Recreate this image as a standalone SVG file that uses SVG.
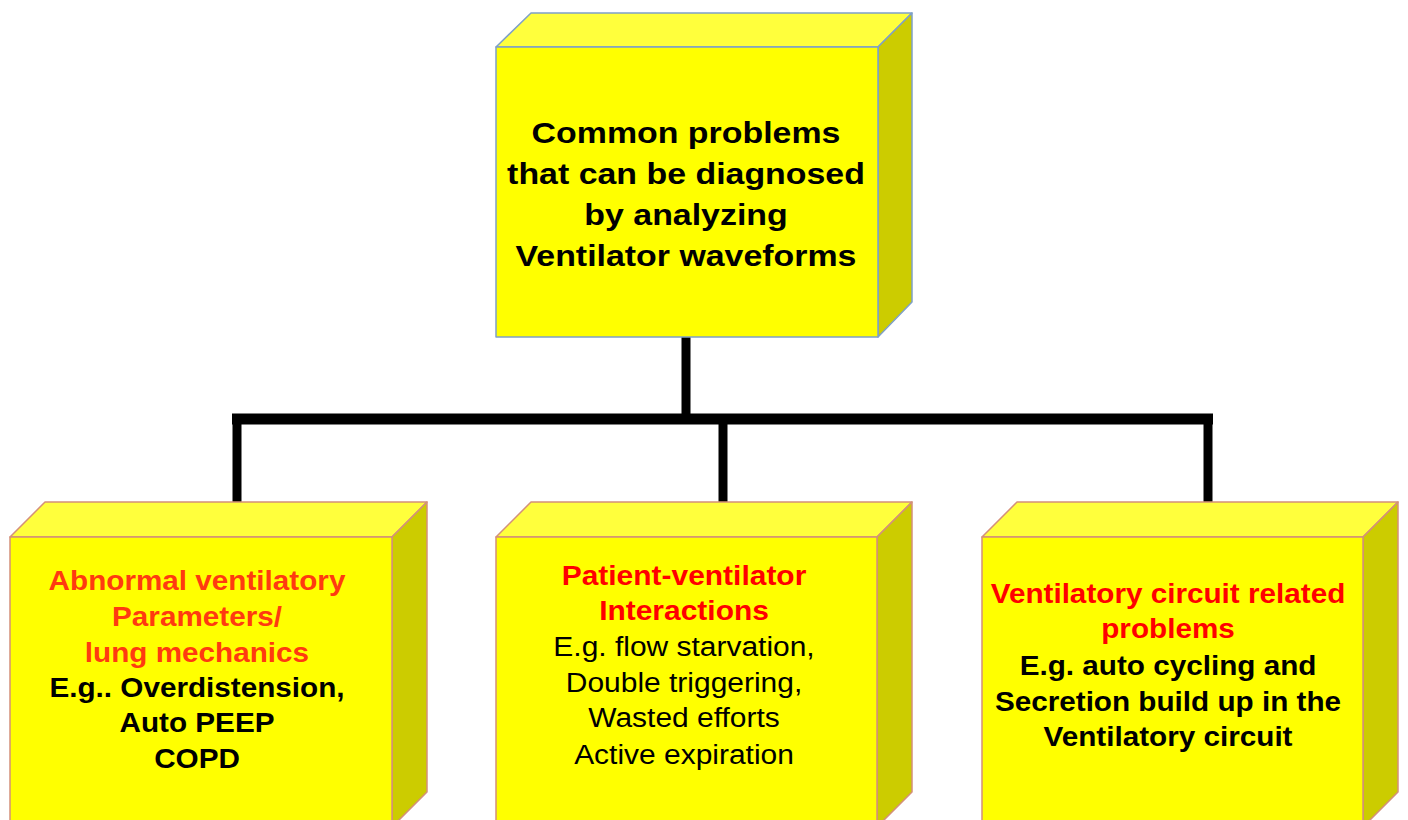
<svg xmlns="http://www.w3.org/2000/svg" width="1408" height="820" viewBox="0 0 1408 820">
  <style>
    .front { fill: #ffff00; }
    .top { fill: #ffff3c; }
    .side { fill: #cccc00; }
    .edge-blue { stroke: #7fa0c8; stroke-width: 1.5; stroke-linejoin: round; }
    .edge-red { stroke: #d4907a; stroke-width: 1.5; stroke-linejoin: round; }
    .wire { fill: none; stroke: #000000; stroke-width: 9; stroke-linecap: butt; }
    .bar { fill: none; stroke: #000000; stroke-width: 11; stroke-linecap: butt; }
    text { font-family: "Liberation Sans", Arial, sans-serif; text-anchor: middle; }
    .hd { font-size: 30px; font-weight: bold; fill: #000000; }
    .red { font-size: 28px; font-weight: bold; fill: #ff0000; }
    .orange { font-size: 28px; font-weight: bold; fill: #ff3a10; }
    .blk { font-size: 28px; font-weight: bold; fill: #000000; }
    .reg { font-size: 28px; font-weight: normal; fill: #000000; }
  </style>

  <!-- connectors -->
  <g id="connectors">
    <path class="wire" d="M686,337 V419"/>
    <path class="bar" d="M232,419 H1213"/>
    <path class="wire" d="M237,419 V502"/>
    <path class="wire" d="M723,419 V502"/>
    <path class="wire" d="M1208,419 V502"/>
  </g>

  <!-- root node -->
  <g id="root">
    <polygon class="top edge-blue" points="496,47 531,13 912,13 878,47"/>
    <polygon class="side edge-blue" points="878,47 912,13 912,302 878,337"/>
    <rect class="front edge-blue" x="496" y="47" width="382" height="290"/>
    <g transform="translate(686,0) scale(1.13,1)">
      <text class="hd" x="0" y="143">Common problems</text>
      <text class="hd" x="0" y="184">that can be diagnosed</text>
      <text class="hd" x="0" y="225">by analyzing</text>
      <text class="hd" x="0" y="266">Ventilator waveforms</text>
    </g>
  </g>

  <!-- left child -->
  <g id="mechanics">
    <polygon class="top edge-red" points="10,537 45,502 427,502 392,537"/>
    <polygon class="side edge-red" points="392,537 427,502 427,792 392,827"/>
    <rect class="front edge-red" x="10" y="537" width="382" height="290"/>
    <g transform="translate(197,0) scale(1.06,1)">
      <text class="orange" x="0" y="590">Abnormal ventilatory</text>
      <text class="orange" x="0" y="626">Parameters/</text>
      <text class="orange" x="0" y="662">lung mechanics</text>
      <text class="blk" x="0" y="697">E.g.. Overdistension,</text>
      <text class="blk" x="0" y="732">Auto PEEP</text>
      <text class="blk" x="0" y="768">COPD</text>
    </g>
  </g>

  <!-- middle child -->
  <g id="interactions">
    <polygon class="top edge-red" points="496,537 531,502 912,502 877,537"/>
    <polygon class="side edge-red" points="877,537 912,502 912,792 877,827"/>
    <rect class="front edge-red" x="496" y="537" width="381" height="290"/>
    <g transform="translate(684,0) scale(1.07,1)">
      <text class="red" x="0" y="585">Patient-ventilator</text>
      <text class="red" x="0" y="620">Interactions</text>
      <text class="reg" x="0" y="656">E.g. flow starvation,</text>
      <text class="reg" x="0" y="692">Double triggering,</text>
      <text class="reg" x="0" y="727">Wasted efforts</text>
      <text class="reg" x="0" y="764">Active expiration</text>
    </g>
  </g>

  <!-- right child -->
  <g id="circuit">
    <polygon class="top edge-red" points="982,537 1017,502 1398,502 1363,537"/>
    <polygon class="side edge-red" points="1363,537 1398,502 1398,792 1363,827"/>
    <rect class="front edge-red" x="982" y="537" width="381" height="290"/>
    <g transform="translate(1168,0) scale(1.06,1)">
      <text class="red" x="0" y="603">Ventilatory circuit related</text>
      <text class="red" x="0" y="638">problems</text>
      <text class="blk" x="0" y="675">E.g. auto cycling and</text>
      <text class="blk" x="0" y="711">Secretion build up in the</text>
      <text class="blk" x="0" y="746">Ventilatory circuit</text>
    </g>
  </g>
</svg>
